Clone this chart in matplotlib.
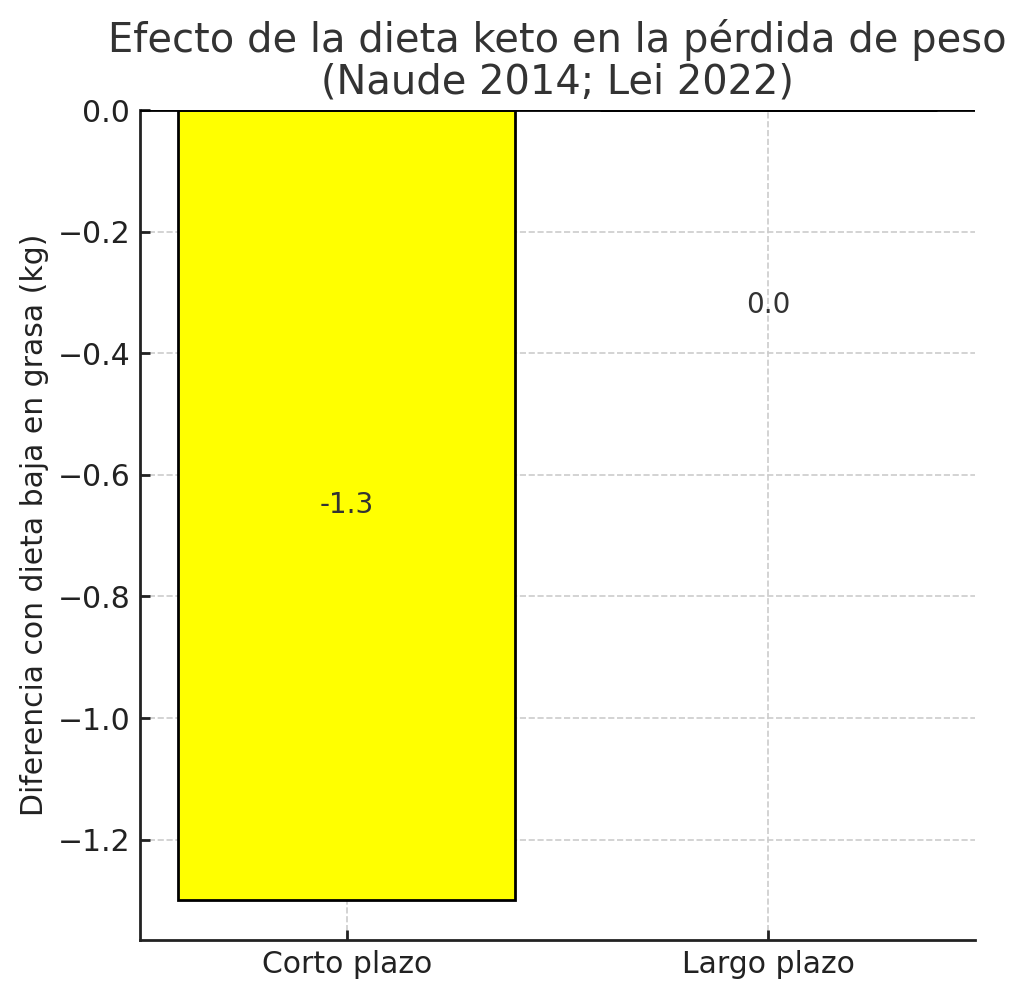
import matplotlib
matplotlib.use("Agg")
import matplotlib.pyplot as plt
import numpy as np

categories = ["Corto plazo", "Largo plazo"]
values = [-1.3, 0.0]
labels = ["-1.3", "0.0"]

plt.rcParams["font.family"] = "DejaVu Sans"
plt.rcParams["text.color"] = "#333333"
plt.rcParams["axes.labelcolor"] = "#222222"
plt.rcParams["xtick.color"] = "#222222"
plt.rcParams["ytick.color"] = "#222222"

fig = plt.figure(figsize=(5.12, 4.985), dpi=200)
ax = fig.add_axes([140 / 1024, 1 - 940 / 997, 835 / 1024, 830 / 997])

x = np.arange(len(categories))
ax.bar(x, values, width=0.8, color="#ffff00", edgecolor="black", linewidth=1, zorder=2)
ax.axhline(0, color="black", linewidth=1, zorder=3)

for xi, v, lab in zip(x, values, labels):
    y = v / 2 if v != 0 else -0.32
    ax.text(xi, y, lab, ha="center", va="center", fontsize=10, color="#333333", zorder=4)

ax.set_xticks(x)
ax.set_xticklabels(categories)
ax.set_ylabel("Diferencia con dieta baja en grasa (kg)", fontsize=10.75, labelpad=3)
ax.set_title("Efecto de la dieta keto en la pérdida de peso\n(Naude 2014; Lei 2022)",
             fontsize=14.4, color="#333333", linespacing=1.05, pad=6)
ax.tick_params(direction="in", labelsize=10.75, width=1)
ax.grid(True, linestyle="--", color="#cccccc", linewidth=0.6, zorder=0)
ax.spines["top"].set_visible(False)
ax.spines["right"].set_visible(False)
for s in ("left", "bottom"):
    ax.spines[s].set_color("#222222")
    ax.spines[s].set_linewidth(1)

fig.savefig("out.png", dpi=200)
